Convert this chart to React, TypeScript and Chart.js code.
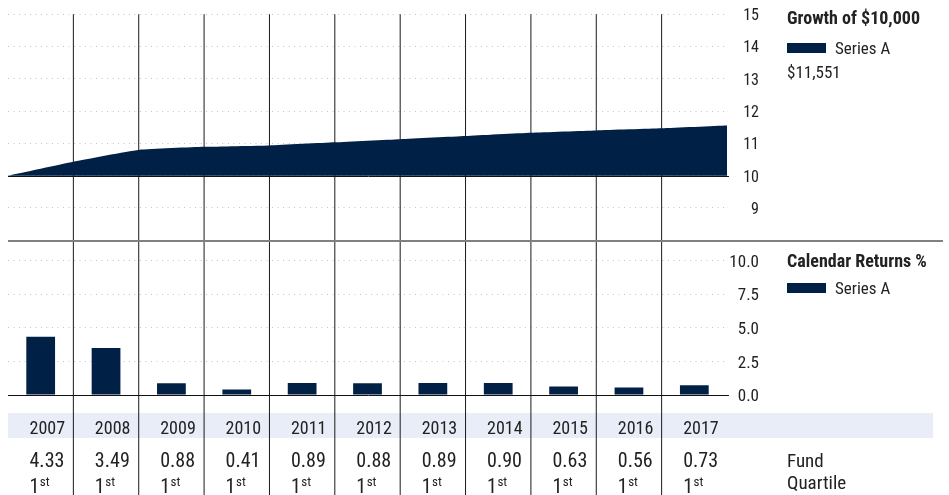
import React, { useEffect, useRef } from 'react';
import { Chart, registerables } from 'chart.js';

Chart.register(...registerables);

// Calendar years shown in the table and as bar categories
const years = ['2007', '2008', '2009', '2010', '2011', '2012', '2013', '2014', '2015', '2016', '2017'];
// Calendar returns (%) per year
const calendarReturns = [4.33, 3.49, 0.88, 0.41, 0.89, 0.88, 0.89, 0.9, 0.63, 0.56, 0.73];
// Quartile rank per year
const quartileRanks = ['1', '1', '1', '1', '1', '1', '1', '1', '1', '1', '1'];
const quartileSuffix = 'st';
// Growth of $10,000 (in thousands) at the start of 2007 and at each year end
const growthThousands = [10.0, 10.433, 10.797, 10.892, 10.937, 11.034, 11.131, 11.23, 11.331, 11.402, 11.466, 11.551];
const endingValue = '$11,551';
// Axis ticks
const growthTicks = [9, 10, 11, 12, 13, 14, 15];
const returnTicks = [0, 2.5, 5, 7.5, 10];

const NAVY = '#002145';
const TEXT = '#222222';
const FONT = "'Liberation Sans Narrow', 'Arial Narrow', 'Roboto Condensed', 'DejaVu Sans Condensed', sans-serif";
const AXIS_W = 32;

const panelPlugin = {
  id: 'panelDecor',
  beforeDatasetsDraw(chart: any) {
    const { ctx, chartArea, scales } = chart;
    const x = scales.x;
    const H = chart.height;
    ctx.save();
    // table header band
    ctx.fillStyle = '#e9edf8';
    ctx.fillRect(chartArea.left, 413, 925, 25);
    // column separators
    ctx.strokeStyle = '#1a1a1a';
    ctx.lineWidth = 1;
    for (let k = 1; k < years.length; k++) {
      const px = x.getPixelForValue(k);
      ctx.beginPath();
      ctx.moveTo(px, chartArea.top);
      ctx.lineTo(px, H);
      ctx.stroke();
    }
    ctx.restore();
  },
  afterDatasetsDraw(chart: any) {
    const { ctx, chartArea, scales } = chart;
    const yG = scales.yGrowth;
    const yR = scales.yReturns;
    ctx.save();
    ctx.strokeStyle = '#111111';
    ctx.lineWidth = 1;
    const y10 = Math.round(yG.getPixelForValue(10)) + 0.5;
    ctx.beginPath();
    ctx.moveTo(chartArea.left, y10);
    ctx.lineTo(chartArea.right + 2, y10);
    ctx.stroke();
    const y0 = Math.round(yR.getPixelForValue(0)) + 0.5;
    ctx.beginPath();
    ctx.moveTo(chartArea.left, y0);
    ctx.lineTo(chartArea.right + 2, y0);
    ctx.stroke();
    // panel separator
    ctx.strokeStyle = '#808080';
    ctx.lineWidth = 2;
    const ys = Math.round(yG.bottom) + 1;
    ctx.beginPath();
    ctx.moveTo(chartArea.left, ys);
    ctx.lineTo(943, ys);
    ctx.stroke();
    ctx.restore();
  },
  afterDraw(chart: any) {
    const { ctx, chartArea, scales } = chart;
    const x = scales.x;
    const lx = chartArea.right + 60;
    const ds = chart.data.datasets;
    ctx.save();
    ctx.fillStyle = TEXT;
    ctx.textAlign = 'left';
    ctx.textBaseline = 'alphabetic';

    // growth legend
    ctx.font = `bold 18px ${FONT}`;
    ctx.fillText('Growth of $10,000', lx, 24);
    ctx.fillStyle = ds[0].backgroundColor;
    ctx.fillRect(lx, 43, 39, 10);
    ctx.fillStyle = TEXT;
    ctx.font = `17px ${FONT}`;
    ctx.fillText(ds[0].label, lx + 48, 54);
    ctx.fillText(endingValue, lx, 78);

    // returns legend
    ctx.font = `bold 18px ${FONT}`;
    ctx.fillText('Calendar Returns %', lx, 267);
    ctx.fillStyle = ds[1].backgroundColor;
    ctx.fillRect(lx, 283, 39, 10);
    ctx.fillStyle = TEXT;
    ctx.font = `17px ${FONT}`;
    ctx.fillText(ds[1].label, lx + 48, 294);

    // table rows
    years.forEach((yr, i) => {
      const left = x.getPixelForValue(i) + 21.5;
      ctx.font = `18px ${FONT}`;
      ctx.fillText(yr, left, 434);
      ctx.font = `20px ${FONT}`;
      ctx.fillText(calendarReturns[i].toFixed(2), left, 467);
      ctx.fillText(quartileRanks[i], left, 493);
      const w = ctx.measureText(quartileRanks[i]).width;
      ctx.font = `13px ${FONT}`;
      ctx.fillText(quartileSuffix, left + w + 0.5, 486);
    });
    ctx.font = `19px ${FONT}`;
    ctx.fillText('Fund', lx, 467);
    ctx.fillText('Quartile', lx, 489);
    ctx.restore();
  },
};

export default function App() {
  const canvasRef = useRef<HTMLCanvasElement | null>(null);

  useEffect(() => {
    const canvas = canvasRef.current;
    if (!canvas) return;
    const fixWidth = (scale: any) => {
      scale.width = AXIS_W;
    };
    const chart = new Chart(canvas, {
      type: 'bar',
      data: {
        datasets: [
          {
            type: 'line',
            label: 'Series A',
            data: growthThousands.map((v, i) => ({ x: i, y: v })),
            xAxisID: 'x',
            yAxisID: 'yGrowth',
            fill: { value: 10 },
            backgroundColor: NAVY,
            borderColor: NAVY,
            borderWidth: 0,
            pointRadius: 0,
            tension: 0.15,
          } as any,
          {
            type: 'bar',
            label: 'Series A',
            data: calendarReturns.map((v, i) => ({ x: i + 0.5, y: v })),
            xAxisID: 'x',
            yAxisID: 'yReturns',
            backgroundColor: NAVY,
            categoryPercentage: 0.8,
            barPercentage: 0.55,
          } as any,
        ],
      },
      options: {
        animation: false,
        responsive: false,
        maintainAspectRatio: false,
        layout: { padding: { left: 8, top: 14, right: 949 - 727 - AXIS_W, bottom: 100 } },
        plugins: { legend: { display: false }, tooltip: { enabled: false } },
        scales: {
          x: { type: 'linear', min: 0, max: 11, offset: false, display: false },
          yGrowth: {
            type: 'linear',
            position: 'right',
            stack: 'panels',
            stackWeight: 225,
            min: 8,
            max: 15,
            afterBuildTicks: (s: any) => {
              s.ticks = growthTicks.map((v) => ({ value: v }));
            },
            afterFit: fixWidth,
            border: { display: false, dash: [1, 4.5] },
            grid: { color: '#c4c4c4', lineWidth: 1, drawTicks: false },
            ticks: {
              color: TEXT,
              font: { family: FONT, size: 16 },
              padding: 4,
              labelOffset: 2,
              autoSkip: false,
              crossAlign: 'far',
              callback: (v: any) => String(v),
            },
          },
          yReturns: {
            type: 'linear',
            position: 'right',
            stack: 'panels',
            stackWeight: 154,
            min: 0,
            max: 11.5,
            afterBuildTicks: (s: any) => {
              s.ticks = returnTicks.map((v) => ({ value: v }));
            },
            afterFit: fixWidth,
            border: { display: false, dash: [1, 4.5] },
            grid: { color: '#c4c4c4', lineWidth: 1, drawTicks: false },
            ticks: {
              color: TEXT,
              font: { family: FONT, size: 17 },
              padding: 4,
              labelOffset: 2,
              autoSkip: false,
              crossAlign: 'far',
              callback: (v: any) => Number(v).toFixed(1),
            },
          },
        } as any,
      },
      plugins: [panelPlugin],
    });
    return () => chart.destroy();
  }, []);

  return (
    <div style={{ position: 'fixed', left: 0, top: 0, width: 949, height: 495, background: '#ffffff' }}>
      <canvas ref={canvasRef} width={949} height={495} style={{ display: 'block' }} />
    </div>
  );
}
